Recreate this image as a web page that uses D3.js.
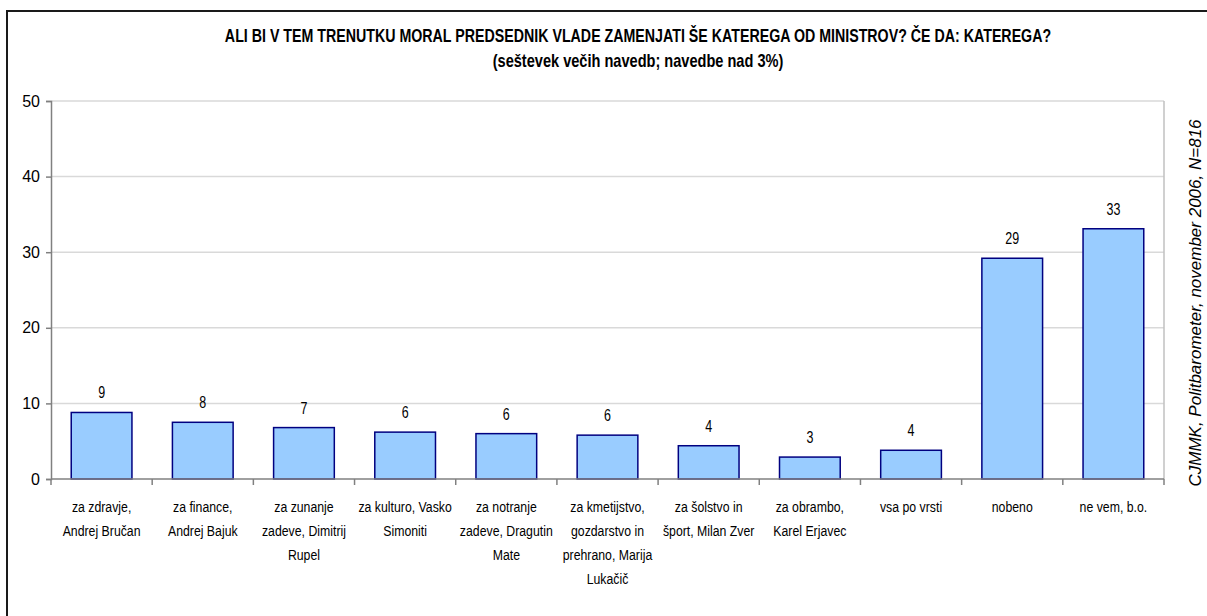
<!DOCTYPE html>
<html>
<head>
<meta charset="utf-8">
<script src="https://cdn.jsdelivr.net/npm/d3@7"></script>
<style>
  body { margin: 0; background: #fff; }
  text { font-family: "Liberation Sans", Arial, sans-serif; fill: #000; }
</style>
</head>
<body>
<div id="chart"></div>
<script>
// data
var categories = [
  "za zdravje,\nAndrej Bručan",
  "za finance,\nAndrej Bajuk",
  "za zunanje\nzadeve, Dimitrij\nRupel",
  "za kulturo, Vasko\nSimoniti",
  "za notranje\nzadeve, Dragutin\nMate",
  "za kmetijstvo,\ngozdarstvo in\nprehrano, Marija\nLukačič",
  "za šolstvo in\nšport, Milan Zver",
  "za obrambo,\nKarel Erjavec",
  "vsa po vrsti",
  "nobeno",
  "ne vem, b.o."
];
var values = [8.8, 7.5, 6.8, 6.2, 6.0, 5.8, 4.4, 2.9, 3.8, 29.2, 33.1];
var yTicks = [0, 10, 20, 30, 40, 50];

var titleText = "ALI BI V TEM TRENUTKU MORAL PREDSEDNIK VLADE ZAMENJATI ŠE KATEREGA OD MINISTROV? ČE DA: KATEREGA?";
var subtitleText = "(seštevek večih navedb; navedbe nad 3%)";
var sourceText = "CJMMK, Politbarometer, november 2006, N=816";

var width = 1207, height = 616;
var plot = { left: 51, top: 101, right: 1164, bottom: 479 };

var svg = d3.select("#chart")
  .append("svg")
  .attr("width", width)
  .attr("height", height);

// outer frame (only left + top edge visible in the window)
svg.append("rect")
  .attr("x", 7).attr("y", 11)
  .attr("width", 1400).attr("height", 800)
  .attr("fill", "none")
  .attr("stroke", "#1a1a1a")
  .attr("stroke-width", 2);

var x = d3.scaleBand()
  .domain(d3.range(categories.length))
  .range([plot.left, plot.right])
  .paddingInner(0.4)
  .paddingOuter(0.2);

var y = d3.scaleLinear()
  .domain([0, 50])
  .range([plot.bottom, plot.top]);

// gridlines
svg.append("g")
  .selectAll("line")
  .data(yTicks.filter(function (d) { return d > 0; }))
  .enter().append("line")
  .attr("x1", plot.left).attr("x2", plot.right)
  .attr("y1", function (d) { return y(d); })
  .attr("y2", function (d) { return y(d); })
  .attr("stroke", "#d9d9d9")
  .attr("stroke-width", 1.5);

// right edge of the plot area
svg.append("line")
  .attr("x1", plot.right).attr("x2", plot.right)
  .attr("y1", plot.top).attr("y2", plot.bottom)
  .attr("stroke", "#c0c0c0")
  .attr("stroke-width", 1.5);

// bars
svg.append("g")
  .selectAll("rect")
  .data(values)
  .enter().append("rect")
  .attr("x", function (d, i) { return x(i); })
  .attr("y", function (d) { return y(d); })
  .attr("width", x.bandwidth())
  .attr("height", function (d) { return y(0) - y(d); })
  .attr("fill", "#99ccff")
  .attr("stroke", "#000080")
  .attr("stroke-width", 1.5);

// value labels (narrow look: squeeze horizontally)
svg.append("g")
  .selectAll("text")
  .data(values)
  .enter().append("text")
  .attr("transform", function (d, i) {
    return "translate(" + (x(i) + x.bandwidth() / 2) + "," + (y(d) - 14) + ") scale(0.78,1)";
  })
  .attr("text-anchor", "middle")
  .style("font-size", "16px")
  .text(function (d) { return Math.round(d); });

// y axis
var yAxis = svg.append("g")
  .attr("transform", "translate(" + plot.left + ",0)")
  .call(d3.axisLeft(y).tickValues(yTicks).tickSize(5).tickPadding(6));
yAxis.select(".domain").attr("stroke", "#808080").attr("stroke-width", 1.5);
yAxis.selectAll(".tick line").attr("stroke", "#808080").attr("stroke-width", 1.5);
yAxis.selectAll(".tick text")
  .style("font-size", "16px")
  .style("font-family", "'Liberation Sans', Arial, sans-serif")
  .attr("fill", "#000");

// x axis line and tick marks at band edges
svg.append("line")
  .attr("x1", plot.left).attr("x2", plot.right)
  .attr("y1", plot.bottom).attr("y2", plot.bottom)
  .attr("stroke", "#808080")
  .attr("stroke-width", 1.5);

svg.append("g")
  .selectAll("line")
  .data(d3.range(categories.length + 1))
  .enter().append("line")
  .attr("x1", function (d) { return plot.left + d * x.step(); })
  .attr("x2", function (d) { return plot.left + d * x.step(); })
  .attr("y1", plot.bottom).attr("y2", plot.bottom + 6)
  .attr("stroke", "#808080")
  .attr("stroke-width", 1.5);

// category labels
var catLabels = svg.append("g")
  .selectAll("text")
  .data(categories)
  .enter().append("text")
  .attr("text-anchor", "middle")
  .style("font-size", "15px")
  .attr("transform", function (d, i) {
    return "translate(" + (x(i) + x.bandwidth() / 2) + "," + 512 + ") scale(0.82,1)";
  });

catLabels.selectAll("tspan")
  .data(function (d) { return d.split("\n"); })
  .enter().append("tspan")
  .attr("x", 0)
  .attr("y", function (d, i) { return i * 24; })
  .text(function (d) { return d; });

// titles
svg.append("text")
  .attr("transform", "translate(638,42) scale(0.79,1)")
  .attr("text-anchor", "middle")
  .style("font-size", "18px")
  .style("font-weight", "bold")
  .text(titleText);

svg.append("text")
  .attr("transform", "translate(638,67) scale(0.81,1)")
  .attr("text-anchor", "middle")
  .style("font-size", "18px")
  .style("font-weight", "bold")
  .text(subtitleText);

// source note, rotated
svg.append("text")
  .attr("transform", "translate(1201,303) rotate(-90)")
  .attr("text-anchor", "middle")
  .style("font-style", "italic")
  .style("font-size", "17px")
  .text(sourceText);
</script>
</body>
</html>
